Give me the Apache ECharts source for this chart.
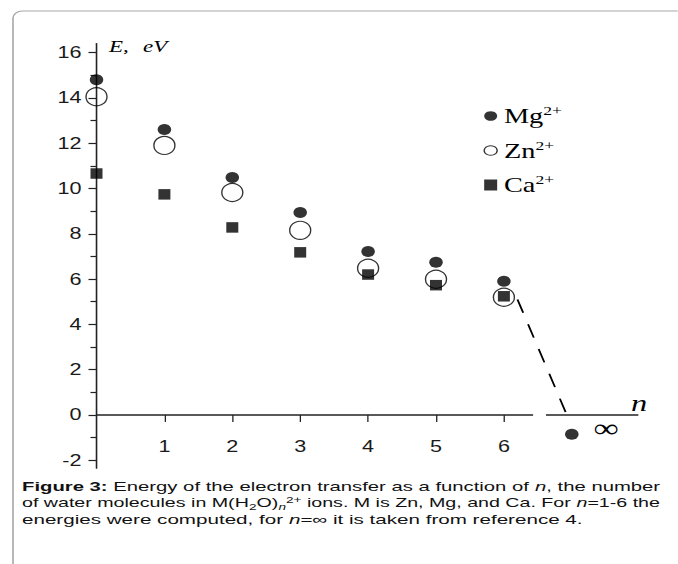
<!DOCTYPE html>
<html><head><meta charset="utf-8">
<script src="https://cdn.jsdelivr.net/npm/echarts@6/dist/echarts.min.js"></script>
<style>
html,body{margin:0;padding:0;background:#fff;overflow:hidden}
#wrap{width:678px;height:564px;overflow:hidden;position:relative;background:#fff}
#chart{position:absolute;left:0;top:0;height:564px;transform-origin:0 0}
</style></head><body>
<div id="wrap"><div id="chart"></div></div>
<script>
// ---- data ----
const nValues = [0, 1, 2, 3, 4, 5, 6];
const mgValues = [14.8, 12.6, 10.48, 8.94, 7.22, 6.74, 5.9];
const znValues = [14.05, 11.9, 9.82, 8.15, 6.48, 5.99, 5.2];
const caValues = [10.66, 9.74, 8.28, 7.18, 6.2, 5.73, 5.24];
const nInfinity = [7];
const mgInfinity = [-0.85];
const trendLine = [[6.2, 5.1], [6.92, 0.05]];
const xTickValues = [1, 2, 3, 4, 5, 6];
const yTickValues = [-2, 0, 2, 4, 6, 8, 10, 12, 14, 16];
const yMinorTickValues = [-1, 1, 3, 5, 7, 9, 11, 13, 15];
const axisSegmentA = [[0, 0], [6.43, 0]];
const axisSegmentB = [[6.62, 0], [7.98, 0]];
const legendNames = ['Mg', 'Zn', 'Ca'];

// ---- layout (horizontal stretch of the whole figure) ----
const S = 1.35;
const X = v => v / S;
const cw = 678 / S;
const dom = document.getElementById('chart');
dom.style.width = cw + 'px';
dom.style.transform = 'scaleX(' + S + ')';
const chart = echarts.init(dom, null, {renderer: 'svg', width: cw, height: 564});

const ctx = document.createElement('canvas').getContext('2d');
function tw(t, f) { ctx.font = f; return ctx.measureText(t).width; }
const CF = 13, SF = 9, FAM = '"Liberation Sans", Arial, sans-serif';
const fReg = CF + 'px ' + FAM, fB = 'bold ' + CF + 'px ' + FAM, fI = 'italic ' + CF + 'px ' + FAM;
const fS = SF + 'px ' + FAM, fSI = 'italic ' + SF + 'px ' + FAM;
const rich = {
  r: {fontSize: CF, fontFamily: FAM, lineHeight: 16},
  b: {fontSize: CF, fontFamily: FAM, fontWeight: 'bold', lineHeight: 16},
  i: {fontSize: CF, fontFamily: FAM, fontStyle: 'italic', lineHeight: 16},
  sub: {fontSize: SF, fontFamily: FAM, lineHeight: 10, verticalAlign: 'bottom'},
  subi: {fontSize: SF, fontFamily: FAM, fontStyle: 'italic', lineHeight: 10, verticalAlign: 'bottom'},
  sup: {fontSize: SF, fontFamily: FAM, lineHeight: 10, verticalAlign: 'top'}
};
const fontOf = {r: fReg, b: fB, i: fI, sub: fS, subi: fSI, sup: fS};
const captionLines = [
  [['b', 'Figure 3:'], ['r', ' Energy of the electron transfer as a function of '], ['i', 'n'], ['r', ', the number']],
  [['r', 'of water molecules in M(H'], ['sub', '2'], ['r', 'O)'], ['subi', 'n'], ['sup', '2+'], ['r', ' ions. M is Zn, Mg, and Ca. For '], ['i', 'n'], ['r', '=1-6 the']],
  [['r', 'energies were computed, for '], ['i', 'n'], ['r', '=\u221e it is taken from reference 4.']]
];
const captionTargets = [638, 638, 561];
const captionY = [487, 503, 519];
const captionEls = captionLines.map((segs, k) => {
  let w = 0;
  segs.forEach(s => { w += tw(s[1], fontOf[s[0]]); });
  const txt = segs.map(s => '{' + s[0] + '|' + s[1] + '}').join('');
  return {
    type: 'text', x: X(22), y: captionY[k], scaleX: captionTargets[k] / (w * S), z: 10,
    style: {text: txt, rich: rich, fill: '#111', fontSize: CF, fontFamily: FAM,
      textAlign: 'left', textVerticalAlign: 'middle', align: 'left', verticalAlign: 'middle'}
  };
});

const serif = '"Liberation Serif", "Times New Roman", serif';
const option = {
  backgroundColor: '#fff',
  animation: false,
  grid: {left: X(96.5), width: X(543.2), top: 43.5, height: 424.7},
  legend: {
    orient: 'vertical', left: X(483.5), top: 104, itemGap: 12, padding: 0,
    itemWidth: X(13), itemHeight: 11, itemTextGap: X(9),
    data: [
      {name: 'Mg', icon: 'circle'},
      {name: 'Zn', icon: 'circle', itemStyle: {color: 'rgba(0,0,0,0)', borderColor: '#000', borderWidth: 1}},
      {name: 'Ca', icon: 'rect'}
    ],
    formatter: n => '{t|' + n + '}{s|2+}',
    textStyle: {rich: {
      t: {fontFamily: serif, fontSize: 21, lineHeight: 24, color: '#000'},
      s: {fontFamily: serif, fontSize: 13, lineHeight: 14, verticalAlign: 'top', color: '#000'}
    }}
  },
  xAxis: {
    type: 'value', min: 0, max: 8,
    axisLine: {show: false, onZero: true},
    splitLine: {show: false},
    axisTick: {show: true, customValues: xTickValues, length: 7, lineStyle: {color: '#222', width: 1.3 / S}},
    axisLabel: {customValues: xTickValues, formatter: v => String(v), margin: -29.5, fontSize: 16, fontFamily: FAM, color: '#1a1a1a'}
  },
  yAxis: [{
    type: 'value', min: -2.35, max: 16.4, position: 'left',
    axisLine: {show: true, onZero: false, lineStyle: {color: '#222', width: 1.6 / S}},
    splitLine: {show: false},
    axisTick: {show: true, customValues: yTickValues, length: X(8), lineStyle: {color: '#222', width: 1.2}},
    axisLabel: {customValues: yTickValues, formatter: v => String(v), margin: X(15), fontSize: 16, fontFamily: FAM, color: '#1a1a1a'}
  }, {
    type: 'value', min: -2.35, max: 16.4, position: 'left',
    axisLine: {show: false}, splitLine: {show: false}, axisLabel: {show: false},
    axisTick: {show: true, customValues: yMinorTickValues, length: X(6), lineStyle: {color: '#222', width: 1.2}}
  }],
  series: [
    {type: 'line', data: axisSegmentA, symbol: 'none', silent: true, z: 1, lineStyle: {color: '#222', width: 1.4}},
    {type: 'line', data: axisSegmentB, symbol: 'none', silent: true, z: 1, lineStyle: {color: '#222', width: 1.4}},
    {type: 'line', data: trendLine, symbol: 'none', silent: true, z: 1, lineStyle: {color: '#000', width: 1.4, type: [14, 12]}},
    {name: 'Mg', type: 'scatter', z: 5, symbol: 'circle', symbolSize: [X(13.5), 11], itemStyle: {color: '#000'},
      data: nValues.map((n, i) => [n, mgValues[i]]).concat(nInfinity.map((n, i) => [n, mgInfinity[i]]))},
    {name: 'Zn', type: 'scatter', z: 4, symbol: 'circle', symbolSize: [X(21), 18],
      itemStyle: {color: 'rgba(0,0,0,0)', borderColor: '#000', borderWidth: 1.1},
      data: nValues.map((n, i) => [n, znValues[i]])},
    {name: 'Ca', type: 'scatter', z: 5, symbol: 'rect', symbolSize: [X(12), 10.5], itemStyle: {color: '#000'},
      data: nValues.map((n, i) => [n, caValues[i]])}
  ],
  graphic: [
    {type: 'rect', z: 0, silent: true, shape: {x: X(13), y: 11, width: X(720), height: 620, r: 7},
      style: {fill: 'none', stroke: '#a8a8a8', lineWidth: 1.2}},
    {type: 'text', x: X(109), y: 46.5, z: 10, style: {text: 'E,', fill: '#000', fontSize: 17, fontStyle: 'italic', fontFamily: serif, textAlign: 'left', align: 'left', textVerticalAlign: 'middle', verticalAlign: 'middle'}},
    {type: 'text', x: X(143), y: 46.5, z: 10, style: {text: 'eV', fill: '#000', fontSize: 17, fontStyle: 'italic', fontFamily: serif, textAlign: 'left', align: 'left', textVerticalAlign: 'middle', verticalAlign: 'middle'}},
    {type: 'text', x: X(639), y: 403, z: 10, style: {text: 'n', fill: '#000', fontSize: 24, fontStyle: 'italic', fontFamily: serif, textAlign: 'center', align: 'center', textVerticalAlign: 'middle', verticalAlign: 'middle'}},
    {type: 'text', x: X(606), y: 428, z: 10, style: {text: '\u221e', fill: '#000', fontSize: 26, fontFamily: serif, textAlign: 'center', align: 'center', textVerticalAlign: 'middle', verticalAlign: 'middle'}}
  ].concat(captionEls)
};
chart.setOption(option);
</script>
</body></html>
